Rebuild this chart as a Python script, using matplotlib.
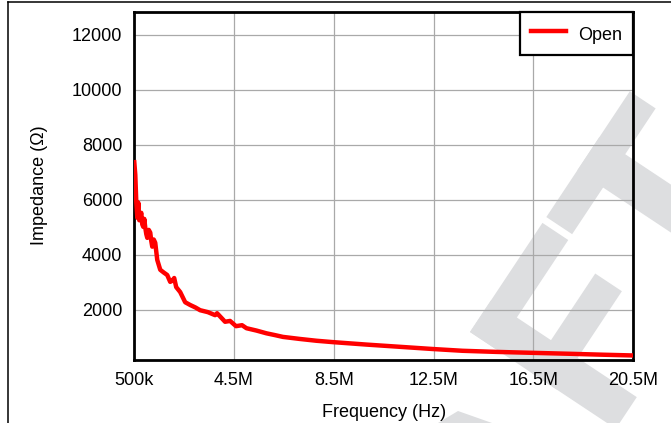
import matplotlib
matplotlib.use("Agg")
import matplotlib.pyplot as plt
from matplotlib.patches import Polygon
from matplotlib.lines import Line2D

# Impedance curve (frequency in MHz, impedance in ohm)
freq_mhz = [0.50, 0.54, 0.58, 0.62, 0.66, 0.70, 0.74, 0.78, 0.82, 0.86,
            0.90, 0.94, 0.98, 1.02, 1.08, 1.14, 1.18, 1.22, 1.28, 1.34,
            1.42, 1.54, 1.68, 1.82, 1.94, 2.02, 2.10, 2.18, 2.34, 2.54,
            2.74, 2.95, 3.14, 3.45, 3.74, 3.82, 4.14, 4.34, 4.58, 4.82,
            5.00, 5.40, 5.80, 6.14, 6.46, 7.14, 7.80, 8.46, 9.82, 11.14,
            12.46, 13.66, 15.0, 16.5, 18.0, 19.3, 20.5]
impedance = [7360, 6900, 5900, 5340, 5890, 5250, 5400, 5520, 5100, 5010,
             5300, 4980, 4750, 4610, 4900, 4800, 4500, 4290, 4550, 4430,
             3810, 3450, 3350, 3260, 3010, 3050, 3150, 2820, 2640, 2270,
             2170, 2080, 1980, 1910, 1800, 1870, 1560, 1590, 1400, 1435,
             1325, 1240, 1140, 1075, 1010, 935, 870, 820, 730, 650,
             570, 505, 465, 430, 395, 362, 335]

x_ticks = [0.5, 4.5, 8.5, 12.5, 16.5, 20.5]
x_tick_labels = ["500k", "4.5M", "8.5M", "12.5M", "16.5M", "20.5M"]
y_ticks = [2000, 4000, 6000, 8000, 10000, 12000]

plt.rcParams["font.family"] = ["Liberation Sans", "DejaVu Sans"]

W, H = 671, 423
fig = plt.figure(figsize=(W / 100, H / 100), dpi=100)
fig.patch.set_facecolor("white")

# grey "DRAFT"-style watermark behind the plot (pixel coords, rotated letters)
def to_fig(a, b):
    px = 470 + 0.553 * a + 0.833 * b
    py = 332 - 0.833 * a + 0.553 * b
    return px / W, 1 - py / H

letter_boxes = [(0, 38, 0, 175), (0, 131, 0, 31), (0, 118, 72, 104),   # F
                (138, 289, 0, 31), (194, 234, 0, 175)]                 # T
wm_color = "#dddee0"
for a0, a1, b0, b1 in letter_boxes:
    pts = [to_fig(a0, b0), to_fig(a1, b0), to_fig(a1, b1), to_fig(a0, b1)]
    fig.add_artist(Polygon(pts, closed=True, facecolor=wm_color,
                           edgecolor="none", zorder=-2))
a_piece = [(438 / W, 0.0), (458 / W, 1 - 411 / H), (492 / W, 0.0)]
fig.add_artist(Polygon(a_piece, closed=True, facecolor=wm_color,
                       edgecolor="none", zorder=-2))

# page frame lines
fig.add_artist(Line2D([7.5 / W, 1], [1 - 2 / H, 1 - 2 / H], color="black", lw=1.1))
fig.add_artist(Line2D([7.5 / W, 7.5 / W], [0, 1 - 2 / H], color="black", lw=1.1))

ax = fig.add_axes([134.3 / W, 1 - 360 / H, (633 - 134.3) / W, (360 - 12) / H])
ax.set_facecolor("none")

ax.plot(freq_mhz, impedance, color="#ff0000", lw=3.2, label="Open",
        solid_joinstyle="round", zorder=3)

ax.set_xlim(0.5, 20.5)
ax.set_ylim(170, 12820)
ax.set_xticks(x_ticks)
ax.set_xticklabels(x_tick_labels)
ax.set_yticks(y_ticks)
ax.tick_params(length=0, pad=8.5, labelsize=13)
ax.grid(True, color="#a9a9a9", lw=0.9)
ax.set_axisbelow(True)
for s in ax.spines.values():
    s.set_linewidth(2)
    s.set_color("black")

leg = ax.legend(loc="upper right", borderaxespad=0, fancybox=False,
                framealpha=1, edgecolor="black", fontsize=13,
                handlelength=1.9, handletextpad=0.7, borderpad=0.6,
                handleheight=1.45)
leg.get_frame().set_linewidth(1.6)

fig.text(384 / W, 1 - 412 / H, "Frequency (Hz)", ha="center", va="center", fontsize=13)
fig.text(40 / W, 1 - 185 / H, "Impedance (Ω)", ha="center", va="center",
         rotation=90, fontsize=13)

plt.savefig("out.png", dpi=100)
